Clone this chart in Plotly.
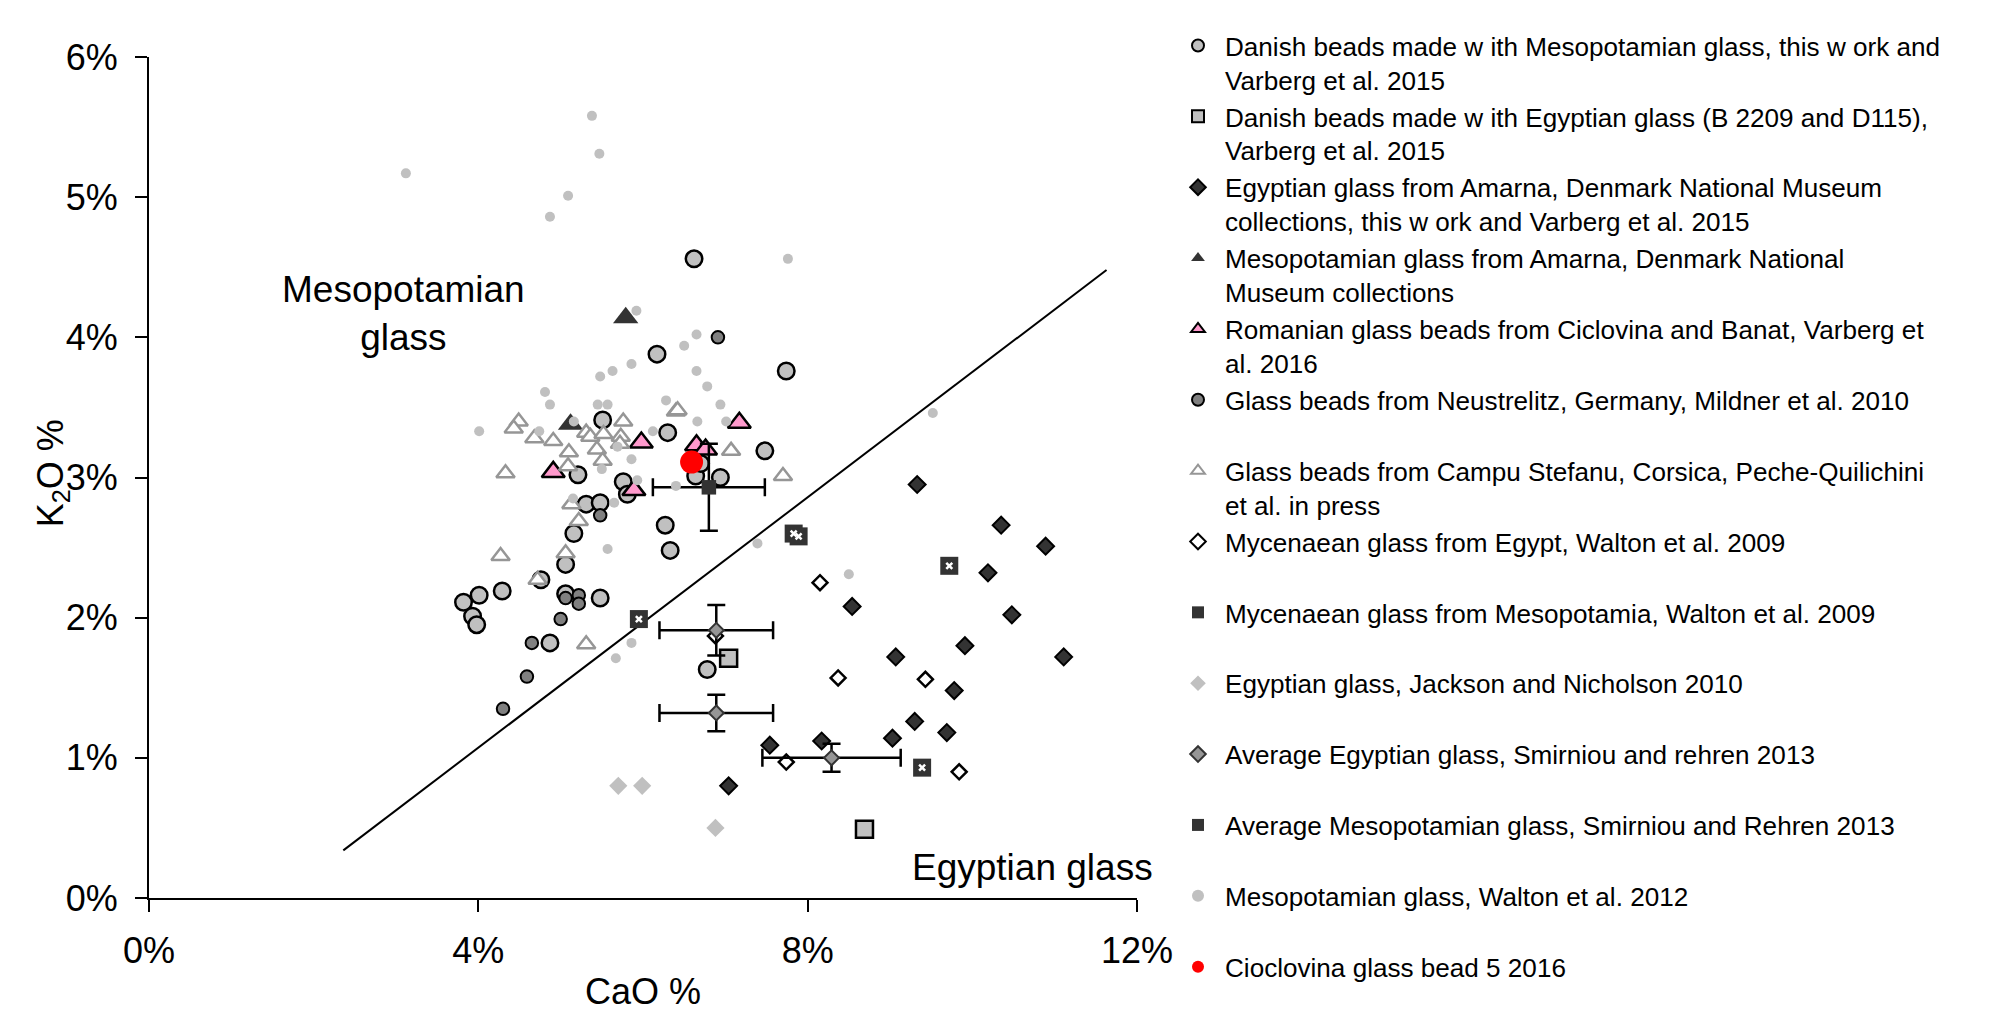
import plotly.graph_objects as go

FONT = "Liberation Sans, Arial, sans-serif"

# ---------------- data (CaO %, K2O %) ----------------
danish_meso_cao = [6.62, 6.17, 7.74, 5.51, 6.30, 7.48, 5.21, 5.76, 6.94, 6.64, 6.70, 5.31, 5.48, 5.81,
                   5.16, 6.27, 6.33, 5.06, 4.76, 4.29, 4.01, 3.82, 3.93, 3.98, 5.06, 5.48, 4.87, 6.78]
danish_meso_k2o = [4.56, 3.88, 3.76, 3.41, 3.32, 3.19, 3.02, 2.97, 3.00, 3.01, 3.10, 2.81, 2.82, 2.88,
                   2.60, 2.66, 2.48, 2.38, 2.27, 2.19, 2.16, 2.11, 2.01, 1.95, 2.17, 2.14, 1.82, 1.63]

danish_egypt_cao = [7.04, 8.69]
danish_egypt_k2o = [1.71, 0.49]

amarna_egypt_cao = [9.33, 10.35, 10.89, 10.19, 8.54, 10.48, 9.91, 11.11, 9.07, 9.78, 9.30, 9.69, 9.03, 8.17, 7.54, 7.04]
amarna_egypt_k2o = [2.95, 2.66, 2.51, 2.32, 2.08, 2.02, 1.80, 1.72, 1.72, 1.48, 1.26, 1.18, 1.14, 1.12, 1.09, 0.80]

amarna_meso_cao = [5.79, 5.12]
amarna_meso_k2o = [4.14, 3.38]

romanian_cao = [5.98, 4.91, 7.17, 6.65, 6.76, 5.89]
romanian_k2o = [3.25, 3.04, 3.39, 3.23, 3.20, 2.91]

neustrelitz_cao = [6.91, 5.48, 5.06, 5.22, 5.22, 5.00, 4.65, 4.59, 4.30]
neustrelitz_k2o = [4.00, 2.73, 2.14, 2.16, 2.10, 1.99, 1.82, 1.58, 1.35]

campu_cao = [4.49, 4.43, 4.68, 4.91, 5.31, 5.36, 5.52, 5.76, 5.73, 5.72, 5.10, 5.44, 5.51, 5.09, 4.33,
             6.40, 6.42, 7.07, 7.70, 5.13, 5.22, 4.27, 5.06, 4.72, 5.31]
campu_k2o = [3.40, 3.35, 3.28, 3.26, 3.32, 3.29, 3.31, 3.40, 3.29, 3.24, 3.18, 3.20, 3.12, 3.08, 3.03,
             3.47, 3.48, 3.19, 3.01, 2.81, 2.69, 2.44, 2.46, 2.27, 1.81]

myc_egypt_cao = [8.15, 8.37, 9.43, 7.74, 9.84, 6.88]
myc_egypt_k2o = [2.25, 1.57, 1.56, 0.97, 0.90, 1.87]

myc_meso_cao = [5.95, 7.83, 7.89, 9.72, 9.39]
myc_meso_k2o = [1.99, 2.60, 2.58, 2.37, 0.93]

jackson_cao = [5.70, 5.99, 6.88]
jackson_k2o = [0.80, 0.80, 0.50]

avg_egypt_cao = [6.89, 6.89, 8.29]
avg_egypt_k2o = [1.91, 1.32, 1.00]
avg_egypt_cao_err = [0.69, 0.69, 0.84]
avg_egypt_k2o_err = [0.18, 0.13, 0.10]

avg_meso_cao = [6.80]
avg_meso_k2o = [2.93]
avg_meso_cao_err = [0.68]
avg_meso_k2o_err = [0.31]

walton_cao = [3.12, 5.38, 5.47, 5.09, 4.87, 7.76, 5.92, 6.65, 6.50, 5.86, 5.63, 5.48, 6.65, 4.81, 4.87,
              5.45, 5.57, 6.28, 6.66, 4.01, 4.74, 5.16, 6.12, 5.86, 5.69, 5.50, 5.93, 6.40, 6.78, 6.94,
              7.01, 9.52, 5.65, 5.15, 5.57, 5.86, 5.67, 7.39, 8.50]
walton_k2o = [5.17, 5.58, 5.31, 5.01, 4.86, 4.56, 4.19, 4.02, 3.94, 3.81, 3.76, 3.72, 3.76, 3.61, 3.52,
              3.52, 3.52, 3.55, 3.40, 3.33, 3.33, 3.40, 3.33, 3.13, 3.22, 3.06, 2.98, 2.94, 3.65, 3.52,
              3.40, 3.46, 2.82, 2.85, 2.49, 1.82, 1.71, 2.53, 2.31]

cioclovina_cao = [6.59]
cioclovina_k2o = [3.11]

divider_cao = [2.36, 11.63]
divider_k2o = [0.34, 4.48]

x_ticks = [0, 4, 8, 12]
x_tick_labels = ["0%", "4%", "8%", "12%"]
y_ticks = [0, 1, 2, 3, 4, 5, 6]
y_tick_labels = ["0%", "1%", "2%", "3%", "4%", "5%", "6%"]

names = [
    "Danish beads made w ith Mesopotamian glass, this w ork and<br>Varberg et al. 2015",
    "Danish beads made w ith Egyptian glass (B 2209 and D115),<br>Varberg et al. 2015",
    "Egyptian glass from Amarna, Denmark National Museum<br>collections, this w ork and Varberg et al. 2015",
    "Mesopotamian glass from Amarna, Denmark National<br>Museum collections",
    "Romanian glass beads from Ciclovina and Banat, Varberg et<br>al. 2016",
    "Glass beads from Neustrelitz, Germany, Mildner et al. 2010<br>&nbsp;",
    "Glass beads from Campu Stefanu, Corsica, Peche-Quilichini<br>et al. in press",
    "Mycenaean glass from Egypt, Walton et al. 2009<br>&nbsp;",
    "Mycenaean glass from Mesopotamia, Walton et al. 2009<br>&nbsp;",
    "Egyptian glass, Jackson and Nicholson 2010<br>&nbsp;",
    "Average Egyptian glass, Smirniou and rehren 2013<br>&nbsp;",
    "Average Mesopotamian glass, Smirniou and Rehren 2013<br>&nbsp;",
    "Mesopotamian glass, Walton et al. 2012<br>&nbsp;",
    "Cioclovina glass bead 5 2016",
]

fig = go.Figure()

fig.add_trace(go.Scatter(x=divider_cao, y=divider_k2o, mode="lines",
                         line=dict(color="black", width=2), showlegend=False, hoverinfo="skip"))


def pts(x, y, name, symbol, size, color, lcolor="black", lwidth=0, **kw):
    fig.add_trace(go.Scatter(x=x, y=y, mode="markers", name=name,
                             marker=dict(symbol=symbol, size=size, color=color,
                                         line=dict(color=lcolor, width=lwidth)), **kw))


pts(danish_meso_cao, danish_meso_k2o, names[0], "circle", 16.5, "#c0c0c0", "black", 2.5)
pts(danish_egypt_cao, danish_egypt_k2o, names[1], "square", 17, "#c0c0c0", "black", 2.5)
pts(amarna_egypt_cao, amarna_egypt_k2o, names[2], "diamond", 13, "#333333", "black", 2)
pts(amarna_meso_cao, amarna_meso_k2o, names[3], "triangle-up", 22, "#333333", "#333333", 0)
pts(romanian_cao, romanian_k2o, names[4], "triangle-up", 20, "#ff99cc", "black", 2.5)
pts(neustrelitz_cao, neustrelitz_k2o, names[5], "circle", 12.5, "#808080", "black", 2)
pts(campu_cao, campu_k2o, names[6], "triangle-up", 16, "white", "#969696", 2.5)
pts(myc_egypt_cao, myc_egypt_k2o, names[7], "diamond", 11.5, "white", "black", 2.5)
pts(myc_meso_cao, myc_meso_k2o, names[8], "square", 18, "#333333", "#333333", 0)
fig.add_trace(go.Scatter(x=myc_meso_cao, y=myc_meso_k2o, mode="markers", showlegend=False,
                         marker=dict(symbol="x-thin", size=6, line=dict(color="white", width=2.5)),
                         hoverinfo="skip"))
pts(jackson_cao, jackson_k2o, names[9], "diamond", 14, "#c0c0c0", "#c0c0c0", 0)
pts(avg_egypt_cao, avg_egypt_k2o, names[10], "diamond", 11.5, "#969696", "#333333", 2,
    error_x=dict(type="data", array=avg_egypt_cao_err, color="black", thickness=2.5, width=9),
    error_y=dict(type="data", array=avg_egypt_k2o_err, color="black", thickness=2.5, width=9))
pts(avg_meso_cao, avg_meso_k2o, names[11], "square", 14.5, "#333333", "#333333", 0,
    error_x=dict(type="data", array=avg_meso_cao_err, color="black", thickness=2.5, width=9),
    error_y=dict(type="data", array=avg_meso_k2o_err, color="black", thickness=2.5, width=9))
pts(walton_cao, walton_k2o, names[12], "circle", 10, "#c0c0c0", "#c0c0c0", 0)
pts(cioclovina_cao, cioclovina_k2o, names[13], "circle", 23, "#ff0000", "#ff0000", 0)

fig.add_annotation(x=3.09, y=4.17, text="Mesopotamian<br>glass", showarrow=False,
                   font=dict(family=FONT, size=37, color="black"), xanchor="center", yanchor="middle")
fig.add_annotation(x=10.73, y=0.22, text="Egyptian glass", showarrow=False,
                   font=dict(family=FONT, size=37, color="black"), xanchor="center", yanchor="middle")
# axis titles placed as in the original (y title tucks in next to the tick labels)
fig.add_annotation(xref="paper", yref="paper", x=0, y=0.505, xshift=-96, textangle=-90,
                   text="K<sub>2</sub>O %", showarrow=False,
                   font=dict(family=FONT, size=36, color="black"), xanchor="center", yanchor="middle")
fig.add_annotation(xref="paper", yref="paper", x=0.5, y=0, yshift=-93,
                   text="CaO %", showarrow=False,
                   font=dict(family=FONT, size=36, color="black"), xanchor="center", yanchor="middle")

axis_common = dict(showline=True, linecolor="black", linewidth=2, ticks="outside", ticklen=12,
                   tickwidth=2, tickcolor="black", showgrid=False, zeroline=False, automargin=False,
                   tickmode="array", tickfont=dict(family=FONT, size=36, color="black"))

# figure is offset by the page's 8 px body margin
W, H = 1983, 1012

fig.update_layout(
    template="none",
    width=W, height=H, autosize=False,
    margin=dict(l=141, r=854, t=49, b=122),
    plot_bgcolor="white", paper_bgcolor="white",
    font=dict(family=FONT, color="black"),
    xaxis=dict(range=[0, 12], tickvals=x_ticks, ticktext=x_tick_labels, ticklabelstandoff=8,
               **axis_common),
    yaxis=dict(range=[0, 6], tickvals=y_ticks, ticktext=y_tick_labels, ticklabelstandoff=10,
               **axis_common),
    legend=dict(x=1163 / W, xref="container", xanchor="left",
                y=1 - 14 / H, yref="container", yanchor="top",
                maxheight=1,
                font=dict(family=FONT, size=26.1, color="black"),
                itemsizing="constant", itemwidth=44, valign="top",
                bgcolor="rgba(0,0,0,0)", borderwidth=0, tracegroupgap=0),
    showlegend=True,
    hovermode="closest",
)

fig.write_html("out.html")
